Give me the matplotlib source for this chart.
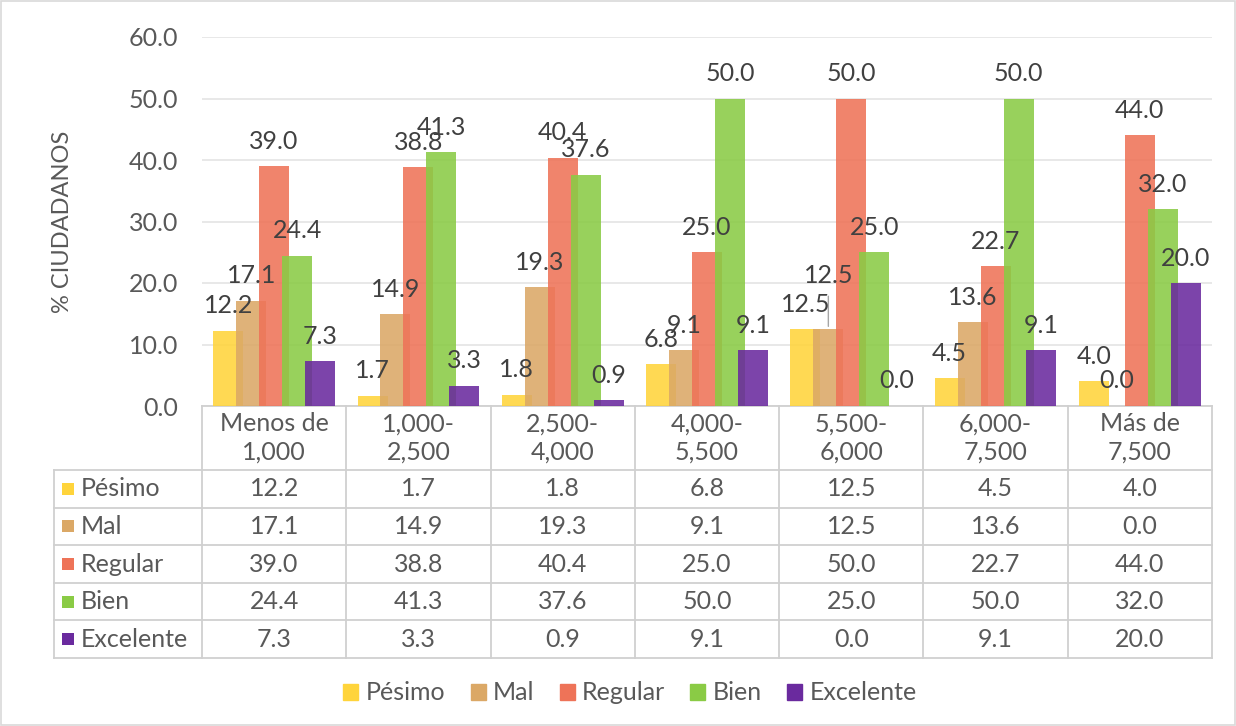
import matplotlib.pyplot as plt
from matplotlib.patches import Patch, Rectangle

plt.rcParams['font.family'] = ['Lato', 'DejaVu Sans']

# data
categories = ['Menos de\n1,000', '1,000-\n2,500', '2,500-\n4,000', '4,000-\n5,500',
              '5,500-\n6,000', '6,000-\n7,500', 'Más de\n7,500']
series = ['Pésimo', 'Mal', 'Regular', 'Bien', 'Excelente']
pesimo = [12.2, 1.7, 1.8, 6.8, 12.5, 4.5, 4.0]
mal = [17.1, 14.9, 19.3, 9.1, 12.5, 13.6, 0.0]
regular = [39.0, 38.8, 40.4, 25.0, 50.0, 22.7, 44.0]
bien = [24.4, 41.3, 37.6, 50.0, 25.0, 50.0, 32.0]
excelente = [7.3, 3.3, 0.9, 9.1, 0.0, 9.1, 20.0]
values = [pesimo, mal, regular, bien, excelente]
colors = ['#FFD43B', '#DBA866', '#EE7358', '#8ACB45', '#6A2A9E']

text_col = '#595959'
line_col = '#D0D0D0'
fs = 18

fig = plt.figure(figsize=(12.36, 7.26), dpi=100)
ax = fig.add_axes([202 / 1236, 1 - 406 / 726, 1010 / 1236, 369 / 726])

width = 0.208
step = 0.159
n = len(categories)
for k, (name, vals) in enumerate(zip(series, values)):
    xs = [i + 0.5 + (k - 2) * step for i in range(n)]
    ax.bar(xs, vals, width=width, color=colors[k], alpha=0.88, zorder=3 + k)
    for j, (x, v) in enumerate(zip(xs, vals)):
        dy = 0
        if k == 1 and j == 4:
            # shifted label with leader line
            ax.annotate('', xy=(x, v), xytext=(x, v + 5.8),
                        arrowprops=dict(arrowstyle='-', color='#A6A6A6', lw=1), zorder=10)
            dy = 29
        ax.annotate(f'{v:.1f}', (x, v), xytext=(0, 25 + dy), textcoords='offset pixels',
                    ha='center', va='center', fontsize=fs, color='#404040', zorder=11)

ax.set_xlim(0, n)
ax.set_ylim(0, 60)
ax.set_yticks(range(0, 61, 10))
ax.set_yticklabels([f'{t:.1f}' for t in range(0, 61, 10)])
ax.tick_params(axis='y', length=0, pad=17, labelsize=fs, labelcolor=text_col)
ax.set_xticks([])
ax.grid(axis='y', color='#E4E4E4', lw=1.2, zorder=0)
for s in ax.spines.values():
    s.set_visible(False)
ax.set_ylabel('% CIUDADANOS', fontsize=17, color=text_col, labelpad=40)

# data table below the axis
px = 1 / 369  # one pixel in axes fraction
header_h = 64 * px
row_h = 37.6 * px
label_x0 = -148 / 144.3  # left edge of label column in data units
tr = ax.get_xaxis_transform()
bottom = -(header_h + 5 * row_h)

kw = dict(transform=tr, clip_on=False, color=line_col, lw=1.3)
ax.plot([0, n], [0, 0], **kw)
ax.plot([label_x0, n], [-header_h, -header_h], **kw)
for r in range(1, 6):
    y = -header_h - r * row_h
    ax.plot([label_x0, n], [y, y], **kw)
for i in range(n + 1):
    ax.plot([i, i], [0, bottom], **kw)
ax.plot([label_x0, label_x0], [-header_h, bottom], **kw)

for i, c in enumerate(categories):
    ax.text(i + 0.5, -header_h / 2, c, transform=tr, ha='center', va='center',
            fontsize=fs, color=text_col, linespacing=1.3)

for k, (name, vals) in enumerate(zip(series, values)):
    yc = -header_h - (k + 0.5) * row_h
    ax.add_patch(Rectangle((label_x0 + 8 / 144.3, yc - 6 * px), 12 / 144.3, 12 * px,
                           transform=tr, clip_on=False, color=colors[k], lw=0))
    ax.text(label_x0 + 27 / 144.3, yc, name, transform=tr, ha='left', va='center',
            fontsize=fs, color=text_col)
    for i, v in enumerate(vals):
        ax.text(i + 0.5, yc, f'{v:.1f}', transform=tr, ha='center', va='center',
                fontsize=fs, color=text_col)

handles = [Patch(color=c, label=s) for c, s in zip(colors, series)]
fig.legend(handles=handles, loc='center', bbox_to_anchor=(630 / 1236, 1 - 693 / 726),
           ncol=5, frameon=False, fontsize=fs, labelcolor=text_col,
           handlelength=0.6, handleheight=0.6, handletextpad=0.3, columnspacing=1.0)

fig.patches.append(Rectangle((0.001, 0.001), 0.998, 0.997, transform=fig.transFigure,
                             fill=False, edgecolor='#D9D9D9', lw=1.2))

fig.savefig('out.png', dpi=100)
